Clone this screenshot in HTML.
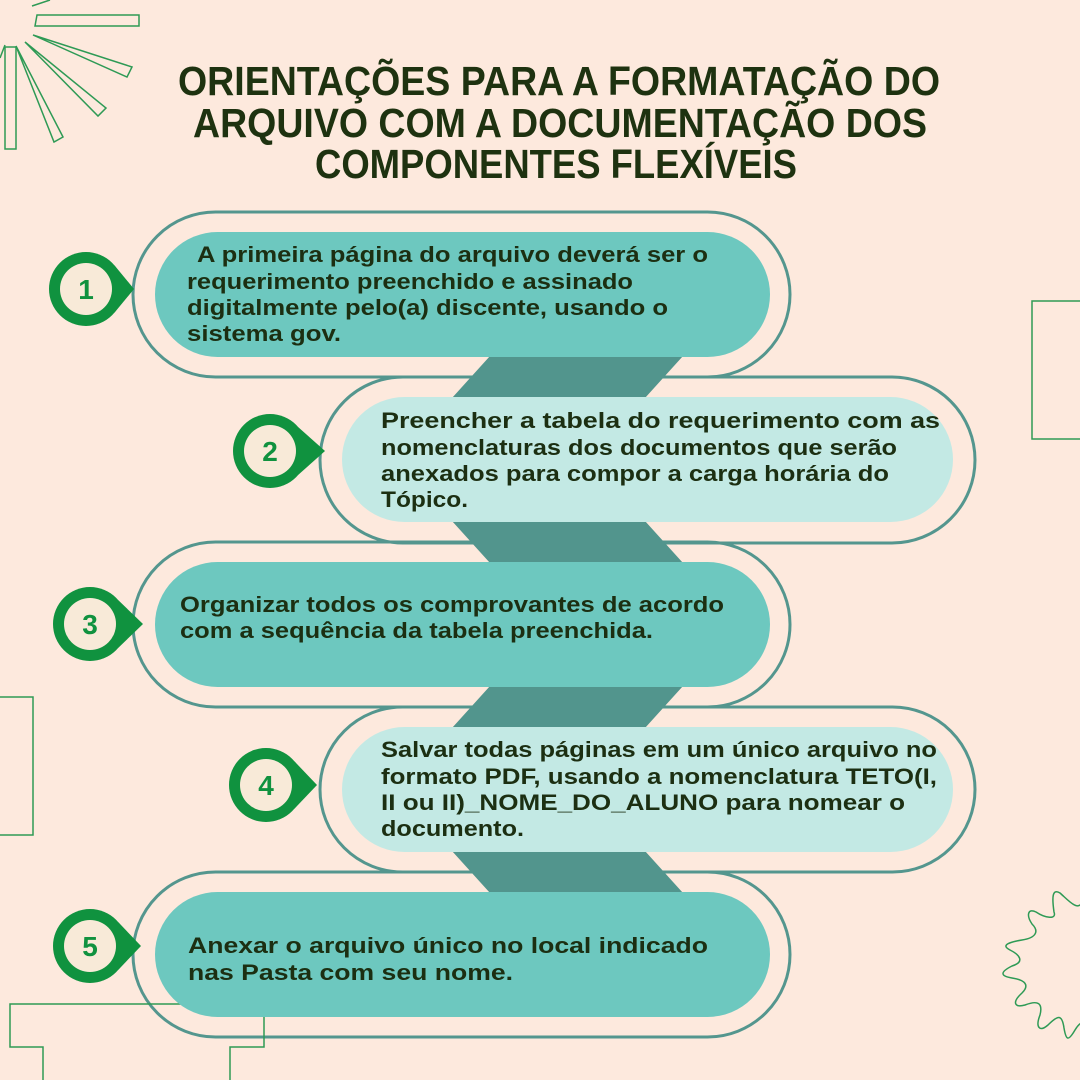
<!DOCTYPE html>
<html><head><meta charset="utf-8"><style>
html,body{margin:0;padding:0;background:#fde9dd;}
svg{display:block}
.t{font-family:"Liberation Sans",sans-serif;font-weight:bold;fill:#1c2f12;font-size:22.5px}
.h{font-family:"Liberation Sans",sans-serif;font-weight:bold;fill:#1e3210;font-size:41px}
.n{font-family:"Liberation Sans",sans-serif;font-weight:bold;fill:#10923f;font-size:28px;text-anchor:middle}
</style></head><body>
<svg width="1080" height="1080" viewBox="0 0 1080 1080">
<rect width="1080" height="1080" fill="#fde9dd"/>
<!-- decorations -->
<g fill="none" stroke="#2e9a55" stroke-width="1.5">
<polygon points="37,15 139,15 139,26 35,26"/>
<polygon points="33,35 132,67 127,77"/>
<polygon points="25,42 106,108 98,116"/>
<polygon points="16,46 63,137 54,142"/>
<polygon points="5,47 5,149 16,149 16,47"/>
<polyline points="32,6 50,0"/>
<polyline points="0,58 5,45"/>
<rect x="1032" y="301" width="60" height="138"/>
<rect x="-10" y="697" width="43" height="138"/>
<path d="M1100,878 C1088,870 1085,885 1082,902 C1078,912 1068,900 1060,893 C1052,888 1052,898 1054,912 C1057,920 1045,918 1036,912 C1028,908 1026,915 1032,924 C1040,932 1035,938 1022,940 C1010,942 1000,945 1010,950 C1020,955 1025,962 1012,966 C1000,972 1000,976 1012,978 C1025,980 1030,985 1022,993 C1012,1002 1014,1008 1025,1005 C1038,1000 1043,1003 1040,1015 C1035,1028 1040,1032 1048,1025 C1058,1015 1062,1014 1064,1028 C1066,1040 1068,1042 1075,1030 C1082,1018 1090,1020 1095,1030"/>
</g>
<!-- outlines -->
<g fill="none" stroke="#54968e" stroke-width="3">
<rect x="133" y="212" width="657" height="165" rx="82.5"/>
<rect x="320" y="377" width="655" height="166" rx="83"/>
<rect x="133" y="542" width="657" height="165" rx="82.5"/>
<rect x="320" y="707" width="655" height="165" rx="82.5"/>
<rect x="133" y="872" width="657" height="165" rx="82.5"/>
</g>
<!-- inner background cover -->
<g fill="#fde9dd">
<rect x="136" y="215" width="651" height="159" rx="79.5"/>
<rect x="323" y="380" width="649" height="160" rx="80"/>
<rect x="136" y="545" width="651" height="159" rx="79.5"/>
<rect x="323" y="710" width="649" height="159" rx="79.5"/>
<rect x="136" y="875" width="651" height="159" rx="79.5"/>
</g>
<g fill="none" stroke="#2e9a55" stroke-width="1.5">
<polyline points="43,1080 43,1047 10,1047 10,1004 264,1004 264,1047 230,1047 230,1080"/>
</g>
<!-- connectors -->
<g fill="#52958d">
<polygon points="490,356 683,356 645,398 452,398"/>
<polygon points="452,521 645,521 683,563 490,563"/>
<polygon points="490,686 683,686 645,728 452,728"/>
<polygon points="452,851 645,851 683,893 490,893"/>
</g>
<!-- fills -->
<rect x="155" y="232" width="615" height="125" rx="62.5" fill="#6dc8bf"/>
<rect x="342" y="397" width="611" height="125" rx="62.5" fill="#c3e9e4"/>
<rect x="155" y="562" width="615" height="125" rx="62.5" fill="#6dc8bf"/>
<rect x="342" y="727" width="611" height="125" rx="62.5" fill="#c3e9e4"/>
<rect x="155" y="892" width="615" height="125" rx="62.5" fill="#6dc8bf"/>
<!-- badges -->
<g fill="#10923f">
<circle cx="86" cy="289" r="37"/><polygon points="114.5,265.4 134,289 114.5,312.6"/>
<circle cx="270" cy="451" r="37"/><polygon points="298.5,427.4 325,451 298.5,474.6"/>
<circle cx="90" cy="624" r="37"/><polygon points="118.5,600.4 143,624 118.5,647.6"/>
<circle cx="266" cy="785" r="37"/><polygon points="294.5,761.4 317,785 294.5,808.6"/>
<circle cx="90" cy="946" r="37"/><polygon points="118.5,922.4 141,946 118.5,969.6"/>
</g>
<g fill="#f8ead8">
<circle cx="86" cy="289" r="26"/>
<circle cx="270" cy="451" r="26"/>
<circle cx="90" cy="624" r="26"/>
<circle cx="266" cy="785" r="26"/>
<circle cx="90" cy="946" r="26"/>
</g>
<text class="n" x="86" y="299">1</text>
<text class="n" x="270" y="461">2</text>
<text class="n" x="90" y="634">3</text>
<text class="n" x="266" y="795">4</text>
<text class="n" x="90" y="956">5</text>
<!-- title -->
<text class="h" x="178" y="95" textLength="762" lengthAdjust="spacingAndGlyphs">ORIENTAÇÕES PARA A FORMATAÇÃO DO</text>
<text class="h" x="193" y="137" textLength="734" lengthAdjust="spacingAndGlyphs">ARQUIVO COM A DOCUMENTAÇÃO DOS</text>
<text class="h" x="315" y="178" textLength="482" lengthAdjust="spacingAndGlyphs">COMPONENTES  FLEXÍVEIS</text>
<!-- body -->
<text class="t" x="197" y="262" textLength="511" lengthAdjust="spacingAndGlyphs">A primeira página do arquivo deverá ser o</text>
<text class="t" x="187" y="289" textLength="446" lengthAdjust="spacingAndGlyphs">requerimento preenchido e assinado</text>
<text class="t" x="187" y="315" textLength="481" lengthAdjust="spacingAndGlyphs">digitalmente pelo(a) discente, usando o</text>
<text class="t" x="187" y="341" textLength="154" lengthAdjust="spacingAndGlyphs">sistema gov.</text>
<text class="t" x="381" y="428" textLength="559" lengthAdjust="spacingAndGlyphs">Preencher a tabela do requerimento com as</text>
<text class="t" x="381" y="455" textLength="516" lengthAdjust="spacingAndGlyphs">nomenclaturas dos documentos que serão</text>
<text class="t" x="381" y="481" textLength="508" lengthAdjust="spacingAndGlyphs">anexados para compor a carga horária do</text>
<text class="t" x="381" y="507" textLength="87" lengthAdjust="spacingAndGlyphs">Tópico.</text>
<text class="t" x="180" y="612" textLength="544" lengthAdjust="spacingAndGlyphs">Organizar todos os comprovantes de acordo</text>
<text class="t" x="180" y="638" textLength="473" lengthAdjust="spacingAndGlyphs">com a sequência da tabela preenchida.</text>
<text class="t" x="381" y="757" textLength="556" lengthAdjust="spacingAndGlyphs">Salvar todas páginas em um único arquivo no</text>
<text class="t" x="381" y="784" textLength="556" lengthAdjust="spacingAndGlyphs">formato PDF, usando a nomenclatura TETO(I,</text>
<text class="t" x="381" y="810" textLength="524" lengthAdjust="spacingAndGlyphs">II ou II)_NOME_DO_ALUNO para nomear o</text>
<text class="t" x="381" y="836" textLength="143" lengthAdjust="spacingAndGlyphs">documento.</text>
<text class="t" x="188" y="953" textLength="520" lengthAdjust="spacingAndGlyphs">Anexar o arquivo único no local indicado</text>
<text class="t" x="188" y="980" textLength="325" lengthAdjust="spacingAndGlyphs">nas Pasta com seu nome.</text>
</svg>
</body></html>
